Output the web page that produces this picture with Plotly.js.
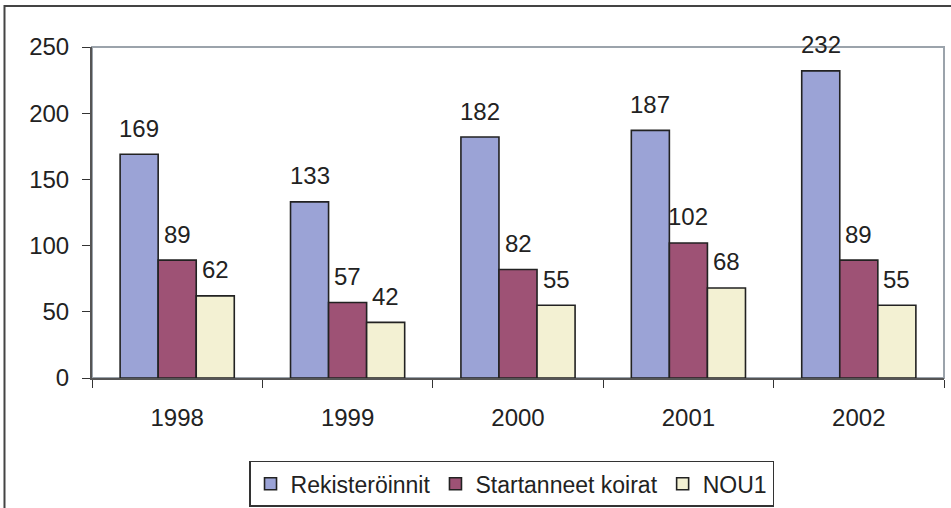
<!DOCTYPE html>
<html>
<head>
<meta charset="utf-8">
<script src="https://cdn.plot.ly/plotly-3.0.1.min.js"></script>
<style>
  body { margin: 0; background: #fff; }
  #plot { width: 951px; height: 508px; }
</style>
</head>
<body>
<div id="plot"></div>
<script>
// years and series values
let years = ["1998", "1999", "2000", "2001", "2002"]
let rekisteroinnit = [169, 133, 182, 187, 232]
let startanneet = [89, 57, 82, 102, 89]
let nou1 = [62, 42, 55, 68, 55]

let seriesNames = ["Rekisteröinnit", "Startanneet koirat", "NOU1"]
let seriesColors = ["#9ba3d6", "#9e5275", "#f3f1d3"]
let seriesVals = [rekisteroinnit, startanneet, nou1]

let fontFam = "Liberation Sans, Arial, sans-serif"

let data = []
for (let s = 0; s < seriesVals.length; s++) {
  data.push({
    x: years,
    y: seriesVals[s],
    type: 'bar',
    name: seriesNames[s],
    marker: {
      color: seriesColors[s],
      line: {color: '#222', width: 1.6}
    },
    hoverinfo: 'x+y+name'
  })
}

// value labels above each bar (x = category index on the category axis)
let shifts = [-38, 0, 38]
let annotations = []
for (let s = 0; s < seriesVals.length; s++) {
  for (let i = 0; i < years.length; i++) {
    annotations.push({
      x: i,
      y: seriesVals[s][i],
      xref: 'x', yref: 'y',
      text: String(seriesVals[s][i]),
      showarrow: false,
      xshift: shifts[s],
      yshift: 26,
      yanchor: 'middle',
      font: {family: fontFam, size: 24, color: '#222'}
    })
  }
}

let layout = {
  width: 951,
  height: 508,
  margin: {l: 92, r: 7, t: 47, b: 130, autoexpand: false},
  paper_bgcolor: '#fff',
  plot_bgcolor: '#fff',
  font: {family: fontFam, size: 24, color: '#222'},
  barmode: 'group',
  bargap: 0.33,
  bargroupgap: 0,
  showlegend: true,
  legend: {
    orientation: 'h',
    x: 0.4924, xanchor: 'center',
    y: -0.25, yanchor: 'top',
    bordercolor: '#333',
    borderwidth: 1.5,
    font: {family: fontFam, size: 23, color: '#222'},
    itemwidth: 30,
    tracegroupgap: 0
  },
  xaxis: {
    type: 'category',
    range: [-0.5, 4.5],
    showline: true,
    linecolor: '#555',
    linewidth: 2,
    ticks: 'outside',
    tickson: 'boundaries',
    ticklen: 8,
    tickcolor: '#333',
    tickangle: 0,
    ticklabelstandoff: 17,
    showgrid: false,
    zeroline: false,
    fixedrange: true
  },
  yaxis: {
    range: [0, 250],
    dtick: 50,
    showline: true,
    linecolor: '#555',
    linewidth: 2,
    ticks: 'outside',
    ticklen: 8,
    tickcolor: '#333',
    ticklabelstandoff: 8,
    showgrid: false,
    zeroline: false,
    fixedrange: true
  },
  annotations: annotations,
  shapes: [
    // plot area frame (top and right show in grey)
    {type: 'rect', xref: 'paper', yref: 'paper', x0: 0, x1: 1, y0: 0, y1: 1,
     line: {color: '#9ba3ab', width: 2}, layer: 'below'},
    // outer chart border, cut off at right and bottom
    {type: 'rect', xref: 'paper', yref: 'paper', x0: -0.1027, x1: 1.06, y0: -0.5, y1: 1.1239,
     line: {color: '#444', width: 2}, layer: 'below'}
  ]
}

let config = {responsive: false, displayModeBar: false}

Plotly.newPlot('plot', data, layout, config)
</script>
</body>
</html>
